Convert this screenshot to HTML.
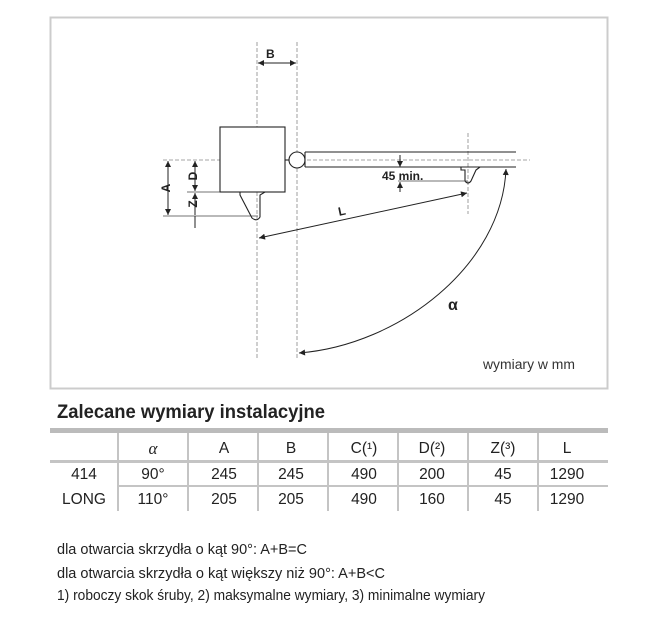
<!DOCTYPE html>
<html><head><meta charset="utf-8"><style>
body{margin:0;background:#fff;width:660px;height:624px;overflow:hidden;font-family:"Liberation Sans",sans-serif;}
svg{position:absolute;left:0;top:0}
</style></head><body>
<svg width="660" height="624" viewBox="0 0 660 624">
<defs>
<marker id="ar" viewBox="0 0 10 10" refX="10" refY="5" markerWidth="9" markerHeight="6" orient="auto-start-reverse" markerUnits="userSpaceOnUse"><path d="M0,0L10,5L0,10z" fill="#222"/></marker>
</defs>
<rect x="50.5" y="17.5" width="557" height="371" fill="#fff" stroke="#ccc" stroke-width="2"/>
<g stroke="#888" stroke-width="0.8" stroke-dasharray="4,2" fill="none">
<line x1="257" y1="42" x2="257" y2="360"/>
<line x1="297" y1="42" x2="297" y2="360"/>
<line x1="163" y1="160" x2="530" y2="160"/>
<line x1="468" y1="133" x2="468" y2="214"/>
</g>
<g stroke="#222" stroke-width="1.1" fill="none">
<rect x="220" y="127" width="65" height="65" fill="#fff"/>
<line x1="285" y1="160" x2="289" y2="160"/>
<circle cx="297" cy="160" r="8" fill="#fff"/>
<line x1="305" y1="152" x2="516" y2="152"/>
<line x1="305" y1="167" x2="516" y2="167"/>
<line x1="305" y1="152" x2="305" y2="167"/>
<path d="M240,192 L240,195 L252,218 Q257,222 260,217 L260,195 L265,192"/>
<path d="M461,167 L461,170 L465,170 L465,181 Q468,185 471,181 L476,170 L480,167"/>
</g>
<g stroke="#444" stroke-width="0.8" fill="none">
<line x1="187" y1="192" x2="220" y2="192"/>
<line x1="163" y1="216" x2="258" y2="216"/>
<line x1="398" y1="181" x2="468" y2="181"/>
</g>
<g stroke="#222" stroke-width="1" fill="none">
<line x1="258" y1="63" x2="296" y2="63" marker-start="url(#ar)" marker-end="url(#ar)"/>
<line x1="168" y1="161" x2="168" y2="215" marker-start="url(#ar)" marker-end="url(#ar)"/>
<line x1="195" y1="161" x2="195" y2="191" marker-start="url(#ar)" marker-end="url(#ar)"/>
<line x1="195" y1="193" x2="195" y2="215" marker-start="url(#ar)"/>
<line x1="195" y1="216" x2="195" y2="228"/>
<line x1="400" y1="155" x2="400" y2="167" marker-end="url(#ar)"/>
<line x1="400" y1="192" x2="400" y2="182" marker-end="url(#ar)"/>
<line x1="259" y1="238" x2="467" y2="193" marker-start="url(#ar)" marker-end="url(#ar)"/>
<path d="M299,353 C400,345 502,265 506,169" marker-start="url(#ar)" marker-end="url(#ar)"/>
</g>
<g font-family="Liberation Sans,sans-serif" font-weight="bold" font-size="12" fill="#222">
<text x="266" y="58">B</text>
<text x="166" y="192" transform="rotate(-90 166 188)" text-anchor="middle">A</text>
<text x="193" y="180" transform="rotate(-90 193 176)" text-anchor="middle">D</text>
<text x="193" y="208" transform="rotate(-90 193 204)" text-anchor="middle">Z</text>
<text x="382" y="180">45 min.</text>
<text x="338" y="215" transform="rotate(-12 343 210)">L</text>
<text x="448" y="310" font-size="16">α</text>
</g>
<text x="483" y="369" font-size="13.5" fill="#333" textLength="92" lengthAdjust="spacingAndGlyphs">wymiary w mm</text>
<text x="57" y="418" font-size="19" font-weight="bold" fill="#222" textLength="268" lengthAdjust="spacingAndGlyphs">Zalecane wymiary instalacyjne</text>
<rect x="50" y="428" width="558" height="5" fill="#bbb"/>
<rect x="50" y="460" width="558" height="3" fill="#c4c4c4"/>
<rect x="118" y="485" width="490" height="2" fill="#c4c4c4"/>
<g fill="#c4c4c4">
<rect x="117" y="433" width="2" height="78"/><rect x="187" y="433" width="2" height="78"/>
<rect x="257" y="433" width="2" height="78"/><rect x="327" y="433" width="2" height="78"/>
<rect x="397" y="433" width="2" height="78"/><rect x="467" y="433" width="2" height="78"/>
<rect x="537" y="433" width="2" height="78"/>
</g>
<g font-size="15.5" fill="#222" text-anchor="middle">
<text x="153" y="454" font-family="Liberation Serif,serif" font-style="italic" font-size="17">α</text>
<text x="224" y="453">A</text><text x="291" y="453">B</text><text x="364" y="453">C(¹)</text>
<text x="432" y="453">D(²)</text><text x="503" y="453">Z(³)</text><text x="567" y="453">L</text>
<text x="84" y="479">414</text><text x="84" y="504">LONG</text>
<text x="153" y="479">90°</text><text x="224" y="479">245</text><text x="291" y="479">245</text><text x="364" y="479">490</text><text x="432" y="479">200</text><text x="503" y="479">45</text><text x="567" y="479">1290</text>
<text x="153" y="504">110°</text><text x="224" y="504">205</text><text x="291" y="504">205</text><text x="364" y="504">490</text><text x="432" y="504">160</text><text x="503" y="504">45</text><text x="567" y="504">1290</text>
</g>
<g font-size="14.5" fill="#222">
<text x="57" y="554" textLength="250" lengthAdjust="spacingAndGlyphs">dla otwarcia skrzydła o kąt 90°: A+B=C</text>
<text x="57" y="578" textLength="328" lengthAdjust="spacingAndGlyphs">dla otwarcia skrzydła o kąt większy niż 90°: A+B&lt;C</text>
<text x="57" y="600" textLength="428" lengthAdjust="spacingAndGlyphs">1) roboczy skok śruby, 2) maksymalne wymiary, 3) minimalne wymiary</text>
</g>
</svg>
</body></html>
